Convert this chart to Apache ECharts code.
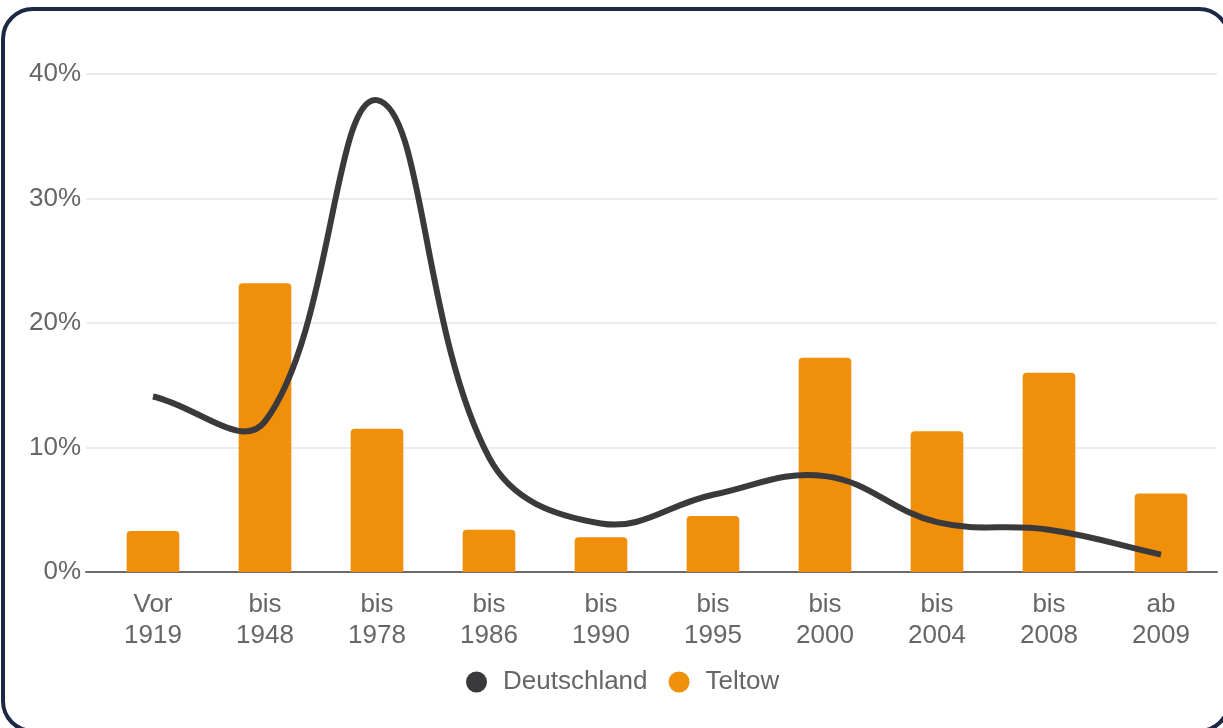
<!DOCTYPE html>
<html>
<head>
<meta charset="utf-8">
<script src="https://cdn.jsdelivr.net/npm/echarts@6/dist/echarts.min.js"></script>
<style>
html,body{margin:0;padding:0;background:#fff;}
#wrap{position:relative;width:1223px;height:728px;overflow:hidden;background:#fff;}
#chart{position:absolute;left:0;top:0;width:1223px;height:728px;}
#frame{position:absolute;left:1px;top:7px;width:1222px;height:718px;border:4px solid #1d2944;border-radius:32px;pointer-events:none;}
</style>
</head>
<body>
<div id="wrap"><div id="chart"></div><div id="frame"></div></div>
<script>
const categories = ['Vor\n1919','bis\n1948','bis\n1978','bis\n1986','bis\n1990','bis\n1995','bis\n2000','bis\n2004','bis\n2008','ab\n2009'];
const deutschland = [14.1, 12.1, 37.9, 9.2, 3.9, 6.2, 7.7, 4.0, 3.4, 1.4];
const teltow = [3.3, 23.2, 11.5, 3.4, 2.8, 4.5, 17.2, 11.3, 16.0, 6.3];
const yTicks = [0, 10, 20, 30, 40];

const font = 'Liberation Sans';
const lineColor = '#3a3a3c';
const tension = 0.4;

// cardinal-style spline through the data points (positions come from the axes via api.coord)
function renderLine(params, api) {
  if (params.dataIndex !== 0) return null;
  const pts = deutschland.map((v, i) => api.coord([i, v]));
  const n = pts.length;
  const cps = pts.map((p, i) => {
    const prev = pts[Math.max(0, i - 1)], next = pts[Math.min(n - 1, i + 1)];
    const d01 = Math.hypot(p[0] - prev[0], p[1] - prev[1]);
    const d12 = Math.hypot(next[0] - p[0], next[1] - p[1]);
    let s01 = d01 / (d01 + d12), s12 = d12 / (d01 + d12);
    if (!isFinite(s01)) s01 = 0; if (!isFinite(s12)) s12 = 0;
    const fa = tension * s01, fb = tension * s12;
    return {
      prev: [p[0] - fa * (next[0] - prev[0]), p[1] - fa * (next[1] - prev[1])],
      next: [p[0] + fb * (next[0] - prev[0]), p[1] + fb * (next[1] - prev[1])]
    };
  });
  let d = 'M' + pts[0][0] + ' ' + pts[0][1];
  for (let i = 1; i < n; i++) {
    const a = cps[i - 1].next, b = cps[i].prev;
    d += ' C' + a[0] + ' ' + a[1] + ' ' + b[0] + ' ' + b[1] + ' ' + pts[i][0] + ' ' + pts[i][1];
  }
  return {
    type: 'path',
    shape: { pathData: d },
    style: { fill: null, stroke: lineColor, lineWidth: 6, lineJoin: 'round', lineCap: 'butt' },
    z2: 10
  };
}

const chart = echarts.init(document.getElementById('chart'), null, {renderer:'canvas'});
chart.setOption({
  animation:false,
  backgroundColor:'transparent',
  textStyle:{fontFamily:font},
  grid:[
    {left:86, right:6, top:74, bottom:156},
    {left:97, right:6, top:74, bottom:156}
  ],
  xAxis:[
    {gridIndex:0, type:'value', min:0, max:1, axisLine:{show:true, lineStyle:{color:'#6b6b6b', width:2}}, axisTick:{show:false}, axisLabel:{show:false}, splitLine:{show:false}},
    {gridIndex:1, type:'category', data:categories, axisLine:{show:false}, axisTick:{show:false},
      axisLabel:{color:'#666', fontSize:26, fontFamily:font, lineHeight:31, margin:17}}
  ],
  yAxis:[
    {gridIndex:0, type:'value', min:yTicks[0], max:yTicks[yTicks.length-1], interval:10,
      axisLine:{show:false}, axisTick:{show:false},
      axisLabel:{color:'#666', fontSize:26, fontFamily:font, margin:5, formatter:v=>v+'%'},
      splitLine:{lineStyle:{color:'#e6e6e6', width:1.5}}},
    {gridIndex:1, type:'value', min:0, max:40, interval:10, show:false, splitLine:{show:false}}
  ],
  legend:{
    data:['Deutschland','Teltow'],
    left:461, top:664, icon:'circle', itemWidth:21, itemHeight:21, itemGap:21,
    textStyle:{color:'#666', fontSize:26, fontFamily:font, padding:[0,0,0,11]}
  },
  series:[
    {name:'Teltow', type:'bar', xAxisIndex:1, yAxisIndex:1, data:teltow, barWidth:'47%',
      itemStyle:{color:'#ef8f0a', borderRadius:[4,4,0,0]}, z:2},
    {name:'Deutschland', type:'custom', xAxisIndex:1, yAxisIndex:1,
      data:deutschland.map((v,i)=>[i,v]), renderItem:renderLine, clip:false,
      itemStyle:{color:lineColor}, z:3}
  ]
});
</script>
</body>
</html>
